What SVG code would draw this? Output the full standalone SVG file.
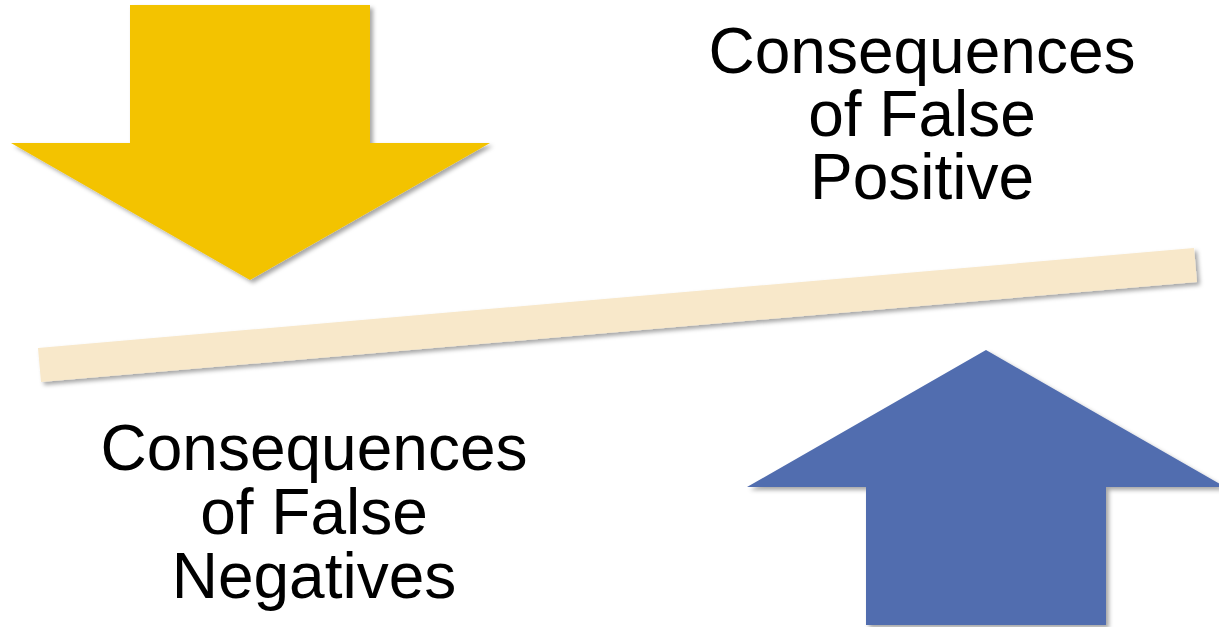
<svg xmlns="http://www.w3.org/2000/svg" width="1219" height="627" viewBox="0 0 1219 627">
  <defs>
    <filter id="shadow" x="-10%" y="-10%" width="120%" height="130%">
      <feDropShadow dx="3" dy="3" stdDeviation="2" flood-color="#000" flood-opacity="0.35"/>
    </filter>
  </defs>
  <style>
    .label { font-family: "Liberation Sans", Arial, sans-serif; font-size: 64px; fill: #000; text-anchor: middle; }
  </style>
  <rect width="1219" height="627" fill="#fff"/>

  <!-- tilted beam of the balance -->
  <g id="beam">
    <polygon points="38,348 1194,248 1197,282 41,382" fill="#F8E8CA" filter="url(#shadow)"/>
  </g>

  <!-- downward arrow (false negatives weight) -->
  <g id="arrow-down">
    <polygon points="130,5 370,5 370,143 490,143 250,280 11,143 130,143" fill="#F3C300" filter="url(#shadow)"/>
  </g>

  <!-- upward arrow (false positives weight) -->
  <g id="arrow-up">
    <polygon points="986,350 1225,487 1106,487 1106,625 866,625 866,487 747,487" fill="#516DAF" filter="url(#shadow)"/>
  </g>

  <g id="label-fp">
    <text class="label" x="922" y="73">Consequences</text>
    <text class="label" x="922" y="136">of False</text>
    <text class="label" x="922" y="199">Positive</text>
  </g>

  <g id="label-fn">
    <text class="label" x="314" y="470">Consequences</text>
    <text class="label" x="314" y="534">of False</text>
    <text class="label" x="314" y="598">Negatives</text>
  </g>
</svg>
